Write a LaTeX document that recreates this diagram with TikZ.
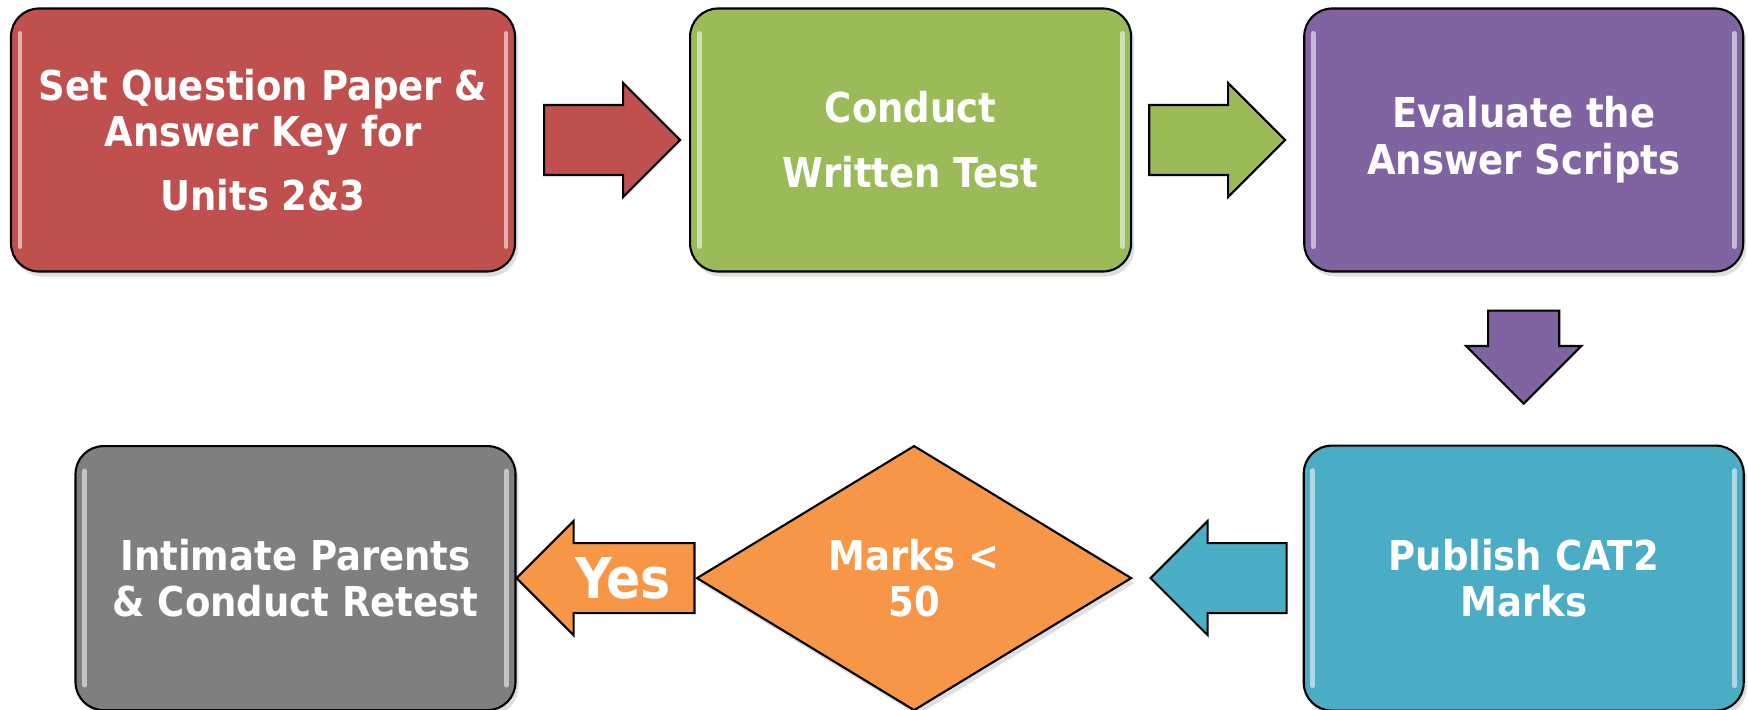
\documentclass[tikz,border=0pt]{standalone}
\usepackage{fontspec}
\newfontfamily\condsans{DejaVu Sans Condensed}
\usepackage{tikz}
\usetikzlibrary{positioning,calc,shapes.geometric,shapes.arrows,shadows}
\definecolor{capred}{HTML}{C0504D}
\definecolor{capgreen}{HTML}{9BBB59}
\definecolor{cappurple}{HTML}{8064A2}
\definecolor{capteal}{HTML}{4BACC6}
\definecolor{caporange}{HTML}{F79646}
\definecolor{capgray}{HTML}{7F7F7F}
\tikzset{
  glossy/.style={path picture={
      \draw[white,opacity=0.55,line width=1.4pt,line cap=round]
        ([shift={(0.09,-0.25)}]path picture bounding box.north west) -- ([shift={(0.09,0.25)}]path picture bounding box.south west);
      \draw[white,opacity=0.55,line width=1.4pt,line cap=round]
        ([shift={(-0.09,-0.25)}]path picture bounding box.north east) -- ([shift={(-0.09,0.25)}]path picture bounding box.south east);
    }},
  stepbox/.style={draw=black,line width=0.6pt,rounded corners=0.28cm,minimum width=4.4cm,minimum height=2.63cm,
    align=center,text=white,font=\condsans\bfseries\fontsize{11.7}{13.3}\selectfont,inner sep=0pt,
    drop shadow={opacity=0.25,shadow xshift=0.03cm,shadow yshift=-0.05cm},glossy},
  blockarr/.style={single arrow,draw=black,line width=0.6pt,single arrow head extend=0.22cm,
    minimum height=1.36cm,minimum width=1.12cm,inner xsep=0pt,inner ysep=0.135cm,
    text height=0.41cm,text depth=0cm,text=white,
    font=\condsans\bfseries\fontsize{16}{18}\selectfont}
}
\begin{document}
\begin{tikzpicture}
    \useasboundingbox (0,0) rectangle (17.48,-7.10);
    \node[stepbox,fill=capred,minimum width=5.04cm] (setq) at (2.63,-1.40) {Set Question Paper \&\\Answer Key for\\[0.17cm]Units 2\&3};
    \node[stepbox,fill=capgreen,minimum width=4.41cm,right=1.73cm of setq] (condt) {Conduct\\[0.18cm]Written Test};
    \node[stepbox,fill=cappurple,minimum width=4.39cm,right=1.71cm of condt] (evalu) {Evaluate the\\Answer Scripts};
    \node[stepbox,fill=capteal,minimum height=2.65cm,below=1.72cm of evalu] (publ) {Publish CAT2\\Marks};
    \node[diamond,draw=black,line width=0.6pt,fill=caporange,aspect=1.64,minimum width=4.35cm,minimum height=2.65cm,inner sep=0pt,
      align=center,text=white,font=\condsans\bfseries\fontsize{11.7}{13.3}\selectfont,
      drop shadow={opacity=0.25,shadow xshift=0.03cm,shadow yshift=-0.05cm},left=1.70cm of publ] (marks) {Marks <\\50};
    \node[stepbox,fill=capgray,minimum height=2.64cm,left=1.79cm of marks] (intim) {Intimate Parents\\\& Conduct Retest};
    \node[blockarr,fill=capred,anchor=tail] (ar1) at ([xshift=0.27cm]setq.east) {};
    \node[blockarr,fill=capgreen,anchor=tail] (ar2) at ([xshift=0.16cm]condt.east) {};
    \node[blockarr,fill=cappurple,shape border rotate=270,minimum height=0.93cm,inner xsep=0.345cm,inner ysep=0pt,
      text height=0pt,anchor=tail] (ar3) at ([yshift=-0.37cm]evalu.south) {};
    \node[blockarr,fill=capteal,shape border rotate=180,anchor=tail] (ar4) at ([xshift=-0.15cm]publ.west) {};
    \node[blockarr,fill=caporange,shape border rotate=180,minimum height=1.78cm,anchor=tail] (ar5) at (marks.west) {Yes};
\end{tikzpicture}
\end{document}
